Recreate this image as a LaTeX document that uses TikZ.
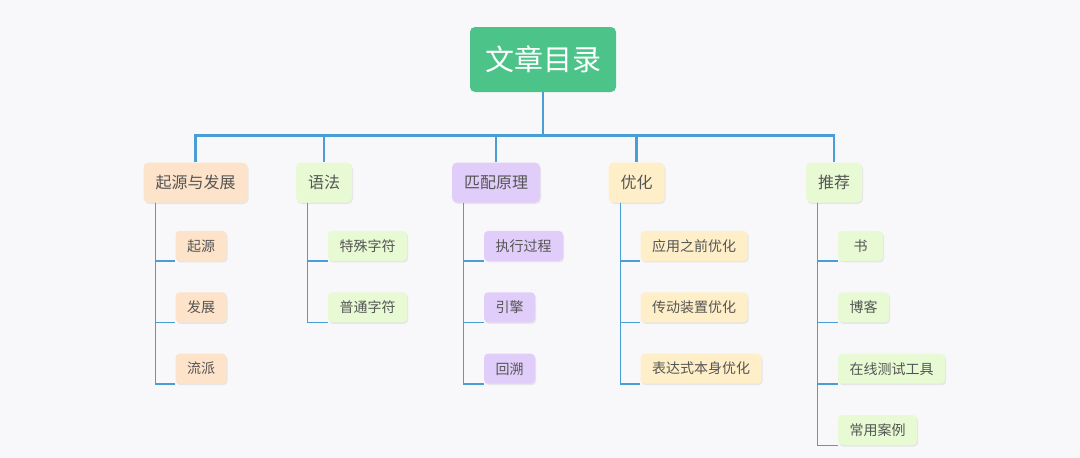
\documentclass[tikz,border=0pt]{standalone}
\usepackage{fontspec}
\newfontfamily\cjk{Noto Sans CJK SC}
\usetikzlibrary{positioning, shadows}
\definecolor{bgpaper}{RGB}{248,248,250}
\definecolor{rootgreen}{RGB}{76,195,137}
\definecolor{lineblue}{RGB}{74,158,216}
\definecolor{peach}{RGB}{253,227,201}
\definecolor{mint}{RGB}{231,250,211}
\definecolor{lilac}{RGB}{225,205,249}
\definecolor{cream}{RGB}{255,239,200}
\definecolor{inkgray}{RGB}{85,85,85}
\tikzstyle{root} = [rectangle, rounded corners=5pt, minimum width=146pt, minimum height=65pt, text centered, fill=rootgreen, text=white, font=\cjk\fontsize{29}{32}\selectfont]
\tikzstyle{topic} = [rectangle, rounded corners=5pt, minimum height=40pt, inner xsep=12pt, text centered, text=inkgray, font=\cjk\fontsize{16}{18}\selectfont, drop shadow={opacity=0.15, shadow xshift=1pt, shadow yshift=-1.5pt}]
\tikzstyle{leaf} = [rectangle, rounded corners=4pt, minimum width=45pt, minimum height=30pt, inner xsep=11.5pt, text centered, text=inkgray, font=\cjk\fontsize{14}{16}\selectfont, drop shadow={opacity=0.15, shadow xshift=1pt, shadow yshift=-1.5pt}]
\tikzstyle{trunk} = [line width=2.6pt, draw=lineblue]
\tikzstyle{branch} = [line width=1.3pt, draw=lineblue]

\begin{document}
\begin{tikzpicture}[x=1pt, y=-1pt, node distance=31pt]
	\fill [bgpaper] (0,0) rectangle (1080,458);
	\useasboundingbox (0,0) rectangle (1080,458);

	\node (M0) [root] at (543,59.5) {文章目录};

	\node (M1) [topic, fill=peach] at (195.5,182.5) {起源与发展};
	\node (M2) [topic, fill=mint] at (324,182.5) {语法};
	\node (M3) [topic, fill=lilac] at (496,182.5) {匹配原理};
	\node (M4) [topic, fill=cream] at (636.5,182.5) {优化};
	\node (M5) [topic, fill=mint] at (834,182.5) {推荐};

	\node (M11) [leaf, fill=peach, below right = 28pt and 32pt of M1.south west] {起源};
	\node (M12) [leaf, fill=peach, below right = 31pt and 0pt of M11.south west] {发展};
	\node (M13) [leaf, fill=peach, below right = 31pt and 0pt of M12.south west] {流派};

	\node (M21) [leaf, fill=mint, below right = 28pt and 32pt of M2.south west] {特殊字符};
	\node (M22) [leaf, fill=mint, below right = 31pt and 0pt of M21.south west] {普通字符};

	\node (M31) [leaf, fill=lilac, below right = 28pt and 32pt of M3.south west] {执行过程};
	\node (M32) [leaf, fill=lilac, below right = 31pt and 0pt of M31.south west] {引擎};
	\node (M33) [leaf, fill=lilac, below right = 31pt and 0pt of M32.south west] {回溯};

	\node (M41) [leaf, fill=cream, below right = 28pt and 32pt of M4.south west] {应用之前优化};
	\node (M42) [leaf, fill=cream, below right = 31pt and 0pt of M41.south west] {传动装置优化};
	\node (M43) [leaf, fill=cream, below right = 31pt and 0pt of M42.south west] {表达式本身优化};

	\node (M51) [leaf, fill=mint, below right = 28pt and 32pt of M5.south west] {书};
	\node (M52) [leaf, fill=mint, below right = 31pt and 0pt of M51.south west] {博客};
	\node (M53) [leaf, fill=mint, below right = 31pt and 0pt of M52.south west] {在线测试工具};
	\node (M54) [leaf, fill=mint, below right = 31pt and 0pt of M53.south west] {常用案例};

	% main topics
	\foreach \t in {M1,M2,M3,M4,M5}
		\draw [trunk] (M0.south) -- ++(0,43) -| (\t.north);

	% sub topics
	\foreach \p/\c in {M1/M11,M1/M12,M1/M13,M2/M21,M2/M22,M3/M31,M3/M32,M3/M33,M4/M41,M4/M42,M4/M43,M5/M51,M5/M52,M5/M53,M5/M54}
		\draw [branch] ([xshift=12pt]\p.south west) |- (\c.south west);
\end{tikzpicture}
\end{document}
